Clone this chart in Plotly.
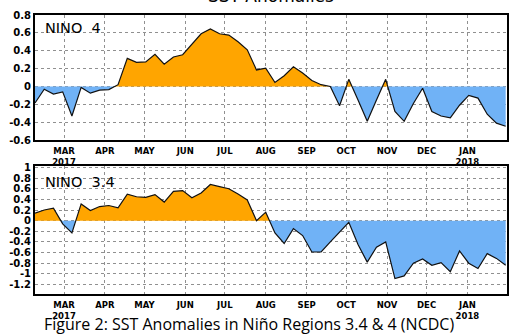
import numpy as np
import pandas as pd
import plotly.graph_objects as go

# ---------------- data ----------------
start_date = "2017-02-07"
nino4 = [-0.185, -0.03, -0.085, -0.06, -0.33, -0.01, -0.075, -0.04, -0.035, 0.02,
         0.315, 0.27, 0.275, 0.36, 0.25, 0.33, 0.355, 0.47, 0.59, 0.645,
         0.59, 0.575, 0.50, 0.41, 0.185, 0.205, 0.045, 0.12, 0.22, 0.15,
         0.067, 0.02, 0.0, -0.215, 0.08, -0.15, -0.39, -0.15, 0.08, -0.28,
         -0.39, -0.19, -0.02, -0.28, -0.33, -0.35, -0.21, -0.10, -0.13, -0.31,
         -0.41, -0.445]
nino34 = [0.14, 0.20, 0.235, -0.06, -0.23, 0.315, 0.19, 0.265, 0.285, 0.24,
          0.50, 0.45, 0.44, 0.49, 0.35, 0.55, 0.565, 0.43, 0.52, 0.68,
          0.64, 0.60, 0.50, 0.39, 0.0, 0.16, -0.23, -0.43, -0.15, -0.28,
          -0.59, -0.59, -0.40, -0.215, -0.03, -0.45, -0.78, -0.50, -0.40, -1.09,
          -1.04, -0.80, -0.72, -0.84, -0.79, -0.96, -0.57, -0.80, -0.90, -0.62,
          -0.71, -0.84]
month_ticks = ["2017-03-01", "2017-04-01", "2017-05-01", "2017-06-01", "2017-07-01",
               "2017-08-01", "2017-09-01", "2017-10-01", "2017-11-01", "2017-12-01",
               "2018-01-01"]
month_labels = ["MAR<br>2017", "APR", "MAY", "JUN", "JUL", "AUG", "SEP", "OCT",
                "NOV", "DEC", "JAN<br>2018"]
y4_ticks = [-0.6, -0.4, -0.2, 0, 0.2, 0.4, 0.6, 0.8]
y4_labels = ["-0.6", "-0.4", "-0.2", "0", "0.2", "0.4", "0.6", "0.8"]
y34_ticks = [-1.2, -1.0, -0.8, -0.6, -0.4, -0.2, 0, 0.2, 0.4, 0.6, 0.8, 1.0]
y34_labels = ["-1.2", "-1", "-0.8", "-0.6", "-0.4", "-0.2", "0", "0.2", "0.4",
              "0.6", "0.8", "1"]

dates = pd.date_range(start_date, periods=len(nino4), freq="7D")

ORANGE = "#ffa500"
BLUE = "#70b2f6"


def split(dts, vals):
    t = np.asarray((dts - dts[0]) / pd.Timedelta(days=1), dtype=float)
    xs, ys = [], []
    for i, v in enumerate(vals):
        if i > 0:
            a, b = vals[i - 1], v
            if a * b < 0:
                f = a / (a - b)
                xs.append(t[i - 1] + f * (t[i] - t[i - 1]))
                ys.append(0.0)
        xs.append(t[i])
        ys.append(v)
    xd = dts[0] + pd.to_timedelta(np.array(xs), unit="D")
    ys = np.array(ys)
    return xd, np.maximum(ys, 0), np.minimum(ys, 0)


fig = go.Figure()
for vals, xa, ya in [(nino4, "x", "y"), (nino34, "x2", "y2")]:
    xd, pos, neg = split(dates, vals)
    fig.add_trace(go.Scatter(x=xd, y=pos, fill="tozeroy", fillcolor=ORANGE,
                             mode="lines", line=dict(width=0, color=ORANGE),
                             xaxis=xa, yaxis=ya, hoverinfo="skip"))
    fig.add_trace(go.Scatter(x=xd, y=neg, fill="tozeroy", fillcolor=BLUE,
                             mode="lines", line=dict(width=0, color=BLUE),
                             xaxis=xa, yaxis=ya, hoverinfo="skip"))
    fig.add_trace(go.Scatter(x=dates, y=vals, mode="lines",
                             line=dict(width=1.2, color="#111111"),
                             xaxis=xa, yaxis=ya))

xrange = ["2017-02-07", "2018-01-31"]
xcommon = dict(range=xrange, tickvals=month_ticks, ticktext=month_labels,
               showgrid=True, griddash="dot", gridcolor="#909090", gridwidth=1,
               showline=True, mirror=True, linecolor="black", linewidth=2,
               ticks="outside", ticklen=2, tickcolor="white",
               tickfont=dict(family="DejaVu Sans", size=8.5, color="black", weight="bold"),
               zeroline=False)
ycommon = dict(showgrid=True, griddash="dot", gridcolor="#909090", gridwidth=1,
               showline=True, mirror=True, linecolor="black", linewidth=2,
               ticks="", zeroline=False,
               tickfont=dict(family="DejaVu Sans", size=10, color="black", weight="bold"))

fig.update_layout(
    width=519, height=336, showlegend=False,
    paper_bgcolor="white", plot_bgcolor="white",
    margin=dict(l=30, r=9.5, t=13, b=42),
    xaxis=dict(anchor="y", **xcommon),
    yaxis=dict(domain=[0.5516, 1.0], range=[-0.6, 0.8], tickvals=y4_ticks,
               ticktext=y4_labels, **ycommon),
    xaxis2=dict(anchor="y2", **xcommon),
    yaxis2=dict(domain=[0.0, 0.4591], range=[-1.38, 1.03], tickvals=y34_ticks,
                ticktext=y34_labels, **ycommon),
)

fig.add_annotation(text="NINO  4", xref="x domain", yref="y domain", x=0.016, y=0.9,
                   xanchor="left", yanchor="middle", showarrow=False,
                   font=dict(family="DejaVu Sans", size=14.5, color="black"))
fig.add_annotation(text="NINO  3.4", xref="x2 domain", yref="y2 domain", x=0.016, y=0.878,
                   xanchor="left", yanchor="middle", showarrow=False,
                   font=dict(family="DejaVu Sans", size=14.5, color="black"))
fig.add_annotation(text="SST Anomalies", xref="paper", yref="paper", x=0.5, y=1.0,
                   xanchor="center", yanchor="bottom", yshift=7, showarrow=False,
                   font=dict(family="DejaVu Sans", size=17, color="black"))
fig.add_annotation(text="Figure 2: SST Anomalies in Niño Regions 3.4 & 4 (NCDC)",
                   xref="paper", yref="paper", x=0.4535, y=0, yshift=-30,
                   xanchor="center", yanchor="middle", showarrow=False,
                   bgcolor="rgba(255,255,255,0)", borderpad=0,
                   font=dict(family="Open Sans", size=16, color="black"))

fig.write_html("out.html")
